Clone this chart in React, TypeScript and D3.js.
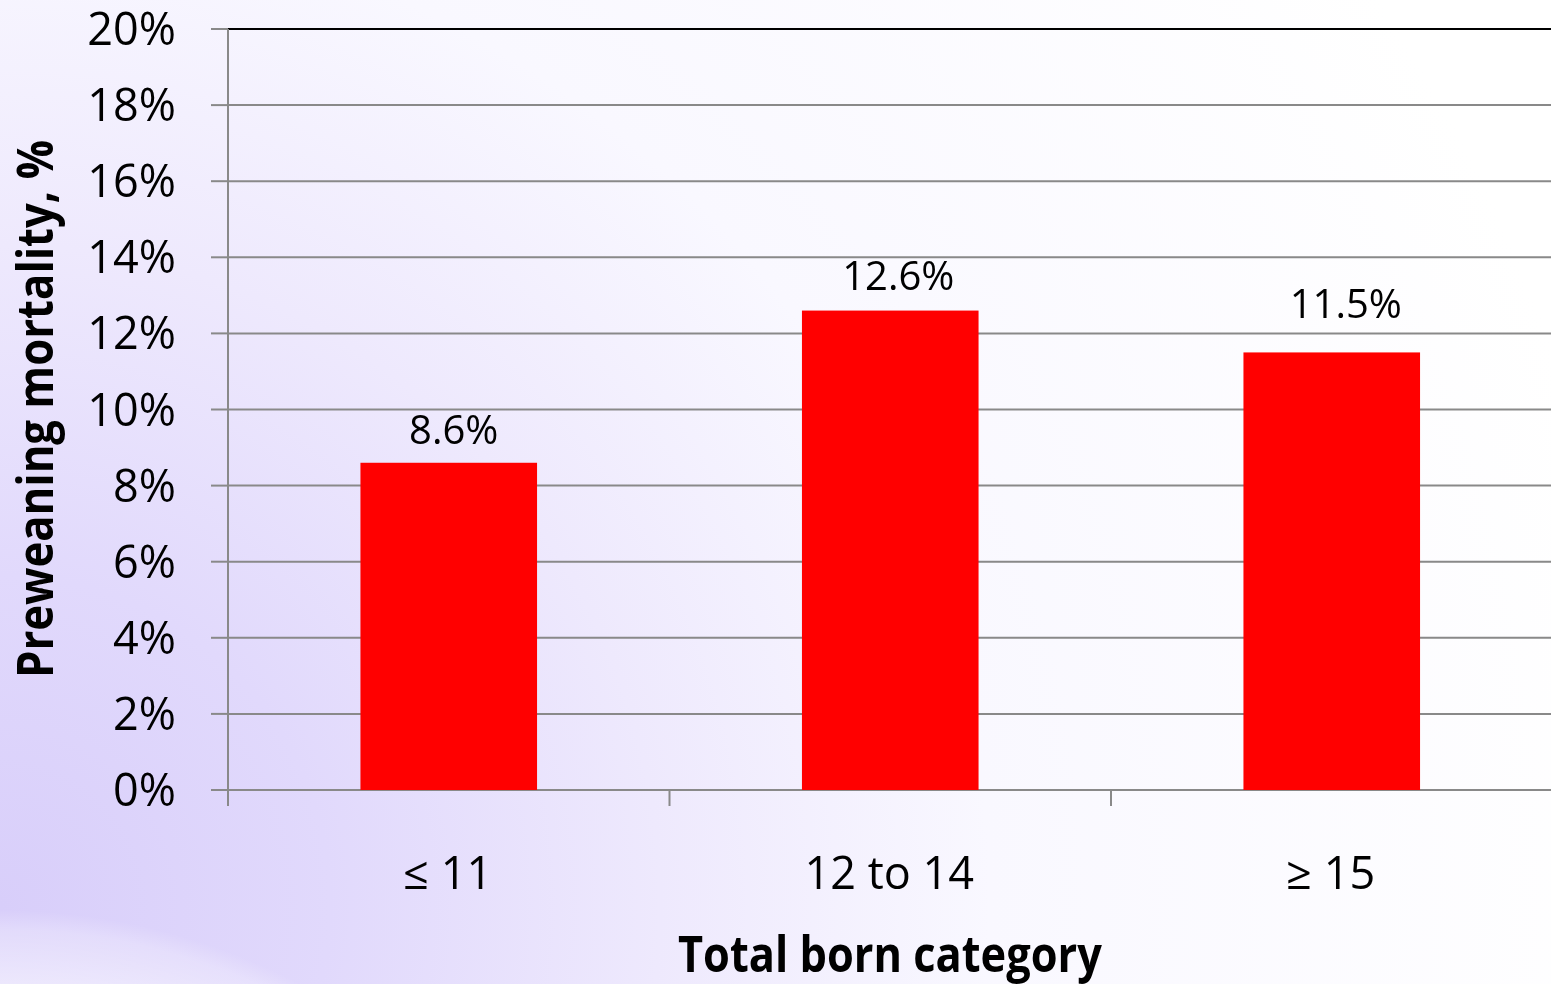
import React from "react";
import * as d3 from "d3";

const categories = ["≤ 11", "12 to 14", "≥ 15"];
const mortality = [8.6, 12.6, 11.5];
const yTicks = [0, 2, 4, 6, 8, 10, 12, 14, 16, 18, 20];

const W = 1551;
const H = 984;
const FONT = "'Open Sans', 'Noto Sans', sans-serif";

// hand-placed nudges for the value labels (dx, extra lift above the bar)
const labelNudge = [
  { dx: 5, lift: 19 },
  { dx: 8, lift: 21 },
  { dx: 14, lift: 34 },
];

export default function App() {
  const left = 228;
  const top = 29;
  const bottom = 790;
  const step = 441.5;

  const x = d3
    .scaleBand<string>()
    .domain(categories)
    .range([left, left + step * categories.length])
    .paddingInner(0)
    .paddingOuter(0);
  const y = d3.scaleLinear().domain([0, 20]).range([bottom, top]);

  const barW = x.step() * 0.4;
  const tickEdges = d3.range(categories.length + 1).map((i) => left + i * x.step());

  return (
    <div style={{ position: "fixed", left: 0, top: 0, width: W, height: H }}>
      <svg width={W} height={H} viewBox={`0 0 ${W} ${H}`} style={{ display: "block" }}>
        <defs>
          <radialGradient id="bg" cx="0" cy={H * 0.92} r={1650} gradientUnits="userSpaceOnUse">
            <stop offset="0" stopColor="#d8cefa" />
            <stop offset="0.2" stopColor="#e1d9fc" />
            <stop offset="0.4" stopColor="#eee9fd" />
            <stop offset="0.6" stopColor="#f9f8ff" />
            <stop offset="1" stopColor="#ffffff" />
          </radialGradient>
          <radialGradient id="swoosh" cx="0" cy={1560} r={650} gradientUnits="userSpaceOnUse">
            <stop offset="0.85" stopColor="#ffffff" stopOpacity="0.6" />
            <stop offset="0.97" stopColor="#ffffff" stopOpacity="0.25" />
            <stop offset="1" stopColor="#ffffff" stopOpacity="0" />
          </radialGradient>
        </defs>
        <rect x={0} y={0} width={W} height={H} fill="url(#bg)" />
        <rect x={0} y={0} width={W} height={H} fill="url(#swoosh)" />

        {/* horizontal gridlines and y ticks */}
        {yTicks.map((t) => (
          <g key={t}>
            <line x1={211} x2={left} y1={y(t)} y2={y(t)} stroke="#898989" strokeWidth={2} />
            <line
              x1={left}
              x2={W}
              y1={y(t)}
              y2={y(t)}
              stroke={t === 20 ? "#000000" : "#898989"}
              strokeWidth={2}
            />
            <text
              x={176}
              y={y(t) + 16}
              textAnchor="end"
              fontFamily={FONT}
              fontSize={45}
              fill="#000"
            >
              {`${t}%`}
            </text>
          </g>
        ))}

        {/* bars */}
        {categories.map((c, i) => (
          <rect
            key={c}
            x={(x(c) as number) + (x.step() - barW) / 2}
            y={y(mortality[i])}
            width={barW}
            height={y(0) - y(mortality[i])}
            fill="#ff0000"
          />
        ))}

        {/* value labels */}
        {categories.map((c, i) => (
          <text
            key={c}
            x={(x(c) as number) + x.step() / 2 + labelNudge[i].dx}
            y={y(mortality[i]) - labelNudge[i].lift}
            textAnchor="middle"
            fontFamily={FONT}
            fontSize={40}
            fill="#000"
          >
            {`${mortality[i].toFixed(1)}%`}
          </text>
        ))}

        {/* y axis line and category ticks */}
        <line x1={left} x2={left} y1={top} y2={806} stroke="#898989" strokeWidth={2} />
        {tickEdges.map((tx) => (
          <line key={tx} x1={tx} x2={tx} y1={bottom} y2={806} stroke="#898989" strokeWidth={2} />
        ))}

        {/* category labels */}
        {categories.map((c) => (
          <text
            key={c}
            x={(x(c) as number) + x.step() / 2 - 1}
            y={889}
            textAnchor="middle"
            fontFamily={FONT}
            fontSize={45}
            fill="#000"
          >
            {c}
          </text>
        ))}

        {/* axis titles */}
        <text
          x={890}
          y={972}
          textAnchor="middle"
          fontFamily={FONT}
          fontWeight="bold"
          fontSize={50}
          textLength={424}
          lengthAdjust="spacingAndGlyphs"
          fill="#000"
        >
          Total born category
        </text>
        <text
          transform={`translate(53, 409) rotate(-90)`}
          textAnchor="middle"
          fontFamily={FONT}
          fontWeight="bold"
          fontSize={50}
          textLength={538}
          lengthAdjust="spacingAndGlyphs"
          fill="#000"
        >
          Preweaning mortality, %
        </text>
      </svg>
    </div>
  );
}
